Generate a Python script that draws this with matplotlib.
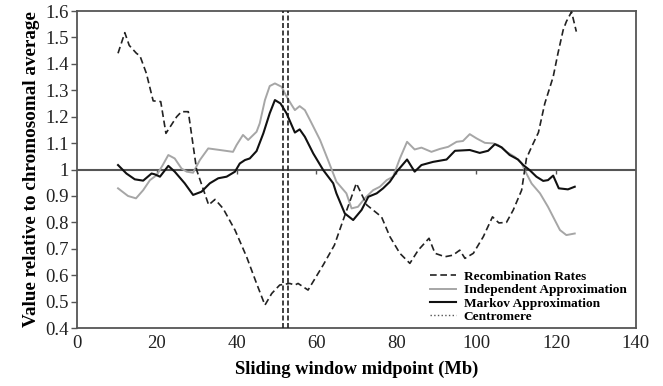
import numpy as np
import matplotlib

matplotlib.use("Agg")
import matplotlib.pyplot as plt
from matplotlib.lines import Line2D
from matplotlib.ticker import FuncFormatter

# Recombination rates (dashed)
rec_x = [10.3, 12.0, 13.1, 14.9, 15.8, 17.4, 19.1, 21.0, 22.3, 25.0, 26.2, 27.9,
         30.0, 33.0, 34.6, 36.6, 39.6, 42.5, 45.0, 47.1, 48.8, 50.8, 53.3, 54.6,
         55.4, 57.9, 61.7, 64.5, 66.7, 70.0, 72.6, 76.3, 78.4, 80.9, 83.4, 85.5,
         88.2, 89.7, 92.2, 94.2, 95.9, 97.2, 99.3, 101.8, 104.1, 105.7, 107.6,
         109.3, 111.4, 112.6, 113.9, 115.6, 117.2, 119.3, 120.5, 121.8, 122.6,
         123.9, 125.1]
rec_y = [1.44, 1.518, 1.47, 1.44, 1.43, 1.364, 1.26, 1.257, 1.137, 1.20, 1.219, 1.219,
         0.998, 0.866, 0.887, 0.853, 0.771, 0.67, 0.569, 0.487, 0.531, 0.563, 0.569, 0.563,
         0.569, 0.544, 0.639, 0.714, 0.809, 0.948, 0.866, 0.821, 0.746, 0.683, 0.645, 0.695,
         0.740, 0.683, 0.670, 0.676, 0.695, 0.664, 0.683, 0.746, 0.821, 0.798, 0.80,
         0.847, 0.922, 1.042, 1.086, 1.14, 1.25, 1.351, 1.44, 1.528, 1.56,
         1.597, 1.522]

# Independent approximation (grey)
ind_x = [10.3, 12.8, 14.8, 16.6, 18.3, 20.0, 21.5, 22.9, 24.5, 26.2, 27.5, 29.1,
         30.8, 32.9, 35.8, 39.1, 40.0, 41.6, 42.9, 45.0, 45.8, 47.1, 48.3, 49.6,
         51.3, 52.3, 53.8, 54.6, 55.8, 57.1, 58.4, 60.9, 62.9, 65.0, 67.5, 68.8,
         70.4, 72.1, 74.2, 75.9, 77.6, 79.2, 80.9, 82.7, 84.6, 86.3, 88.8, 90.9,
         93.0, 95.1, 96.7, 98.4, 100.1, 102.2, 104.3, 105.5, 107.6, 109.7, 111.4,
         112.6, 113.9, 116.0, 118.0, 119.7, 121.0, 122.6, 124.7]
ind_y = [0.929, 0.90, 0.891, 0.922, 0.96, 0.979, 1.017, 1.055, 1.042, 1.004, 0.992, 0.988,
         1.036, 1.08, 1.074, 1.067, 1.093, 1.131, 1.112, 1.143, 1.175, 1.263, 1.316, 1.326,
         1.313, 1.282, 1.244, 1.225, 1.24, 1.225, 1.187, 1.112, 1.036, 0.954, 0.910, 0.853,
         0.859, 0.891, 0.922, 0.935, 0.960, 0.973, 1.042, 1.105, 1.076, 1.083, 1.067, 1.078,
         1.086, 1.105, 1.108, 1.134, 1.118, 1.101, 1.099, 1.093, 1.067, 1.048, 1.023,
         0.985, 0.947, 0.910, 0.859, 0.809, 0.771, 0.752, 0.758]

# Markov approximation (black)
mk_x = [10.3, 12.4, 14.5, 16.6, 18.7, 19.5, 20.8, 22.9, 24.5, 27.0, 29.1, 31.2,
        33.3, 35.4, 37.5, 39.6, 40.8, 42.1, 43.3, 45.0, 46.7, 48.3, 49.6, 51.0,
        52.5, 54.6, 55.8, 57.1, 59.2, 61.7, 64.2, 65.0, 67.1, 69.2, 71.3, 73.0,
        75.1, 76.7, 78.4, 80.1, 82.7, 84.6, 86.3, 89.2, 92.6, 94.7, 98.4, 100.9,
        103.0, 104.7, 106.4, 108.4, 110.5, 111.8, 113.4, 115.1, 116.8, 118.0,
        119.3, 120.7, 123.0, 124.7]
mk_y = [1.017, 0.985, 0.963, 0.958, 0.985, 0.982, 0.973, 1.014, 0.992, 0.948, 0.904, 0.916,
        0.948, 0.967, 0.973, 0.992, 1.023, 1.036, 1.042, 1.07, 1.137, 1.213, 1.263, 1.25,
        1.213, 1.14, 1.152, 1.124, 1.061, 0.998, 0.948, 0.910, 0.834, 0.809, 0.847, 0.897,
        0.910, 0.929, 0.954, 0.992, 1.038, 0.992, 1.017, 1.029, 1.038, 1.071, 1.074, 1.063,
        1.071, 1.096, 1.084, 1.055, 1.038, 1.017, 0.998, 0.973, 0.957, 0.960,
        0.977, 0.929, 0.925, 0.935]

centromere_x = [51.5, 52.9]
x_ticks = [0, 20, 40, 60, 80, 100, 120, 140]
y_ticks = [0.4, 0.5, 0.6, 0.7, 0.8, 0.9, 1.0, 1.1, 1.2, 1.3, 1.4, 1.5, 1.6]
baseline = 1.0

plt.rcParams["font.family"] = ["Liberation Serif", "DejaVu Serif"]

fig = plt.figure(figsize=(6.63, 3.86), dpi=100)
ax = fig.add_axes([0.116, 0.150, 0.843, 0.8215])

frame = "#555555"

ax.axhline(baseline, color=frame, lw=1.5, zorder=1)
# x ticks sit on the y=1 line (Excel "axis crosses at 1")
ax.vlines(x_ticks[1:-1], baseline - 0.018, baseline, color=frame, lw=1.0, zorder=1)

ax.plot(rec_x, rec_y, color="#222222", lw=1.2, dashes=(4, 2.2),
        label="Recombination Rates", zorder=3)
ax.plot(ind_x, ind_y, color="#a6a6a6", lw=1.4, label="Independent Approximation", zorder=2)
ax.plot(mk_x, mk_y, color="#111111", lw=1.5, label="Markov Approximation", zorder=4)
for i, cx in enumerate(centromere_x):
    ax.axvline(cx, color="#222222", lw=1.2, dashes=(3, 1.5), zorder=3,
               label="Centromere" if i == 0 else None)

ax.set_xlim(0, 140)
ax.set_ylim(0.4, 1.6)
ax.set_xticks(x_ticks)
ax.set_yticks(y_ticks)
ax.yaxis.set_major_formatter(FuncFormatter(lambda v, p: f"{v:g}"))
ax.tick_params(axis="x", length=0, labelsize=13.5, pad=5, colors="#222222")
ax.tick_params(axis="y", direction="out", length=4, width=1.0, color=frame,
               labelsize=13.5, pad=2, labelcolor="#222222")
for sp in ax.spines.values():
    sp.set_color(frame)
    sp.set_linewidth(1.3)

ax.set_xlabel("Sliding window midpoint (Mb)", fontsize=13.3, fontweight="bold", labelpad=6)
ax.set_ylabel("Value relative to chromosomal average", fontsize=13.8, fontweight="bold",
              labelpad=4)

handles, labels = ax.get_legend_handles_labels()
# centromere legend entry is drawn dotted
handles[3] = Line2D([], [], color="#555555", lw=1.0, linestyle=":")
leg = ax.legend(handles, labels, loc="lower right", bbox_to_anchor=(0.993, 0.0),
                frameon=False, prop={"weight": "bold", "size": 9.6},
                handlelength=1.9, handletextpad=0.6, labelspacing=0.07, borderaxespad=0.0)

fig.savefig("out.png", dpi=100)
